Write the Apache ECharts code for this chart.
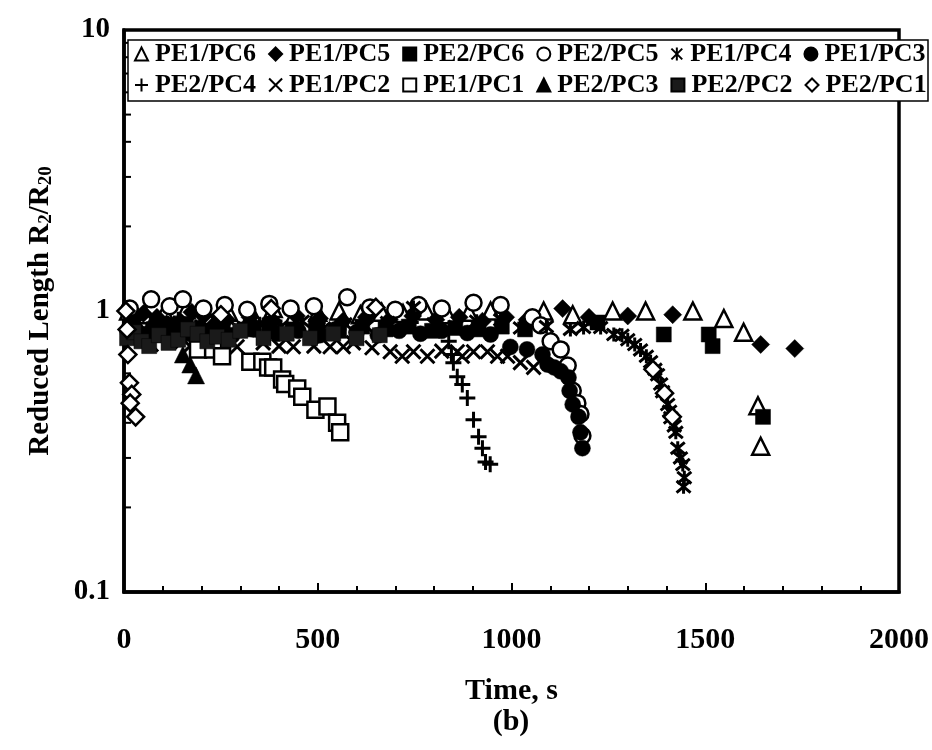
<!DOCTYPE html>
<html>
<head>
<meta charset="utf-8">
<script src="https://cdn.jsdelivr.net/npm/echarts@6/dist/echarts.min.js"></script>
<style>
  html, body { margin: 0; padding: 0; background: #fff; }
  #chart { width: 932px; height: 750px; }
</style>
</head>
<body>
<div id="chart"></div>
<script>
// Time (s) vs reduced length R2/R20 for each PE/PC pair
const pe1pc6 = [[12,1.00],[55,0.97],[105,0.99],[160,1.01],[215,0.96],[270,0.99],[330,0.98],[385,1.02],[440,0.97],[500,0.99],[555,1.00],[610,0.97],[665,0.99],[720,0.98],[780,1.00],[835,0.97],[890,0.99],[946,1.00],[1083,1.00],[1158,0.97],[1261,1.00],[1346,1.00],[1468,1.00],[1548,0.94],[1599,0.84],[1636,0.46],[1643,0.33]];
const pe1pc5 = [[25,0.93],[50,0.98],[85,0.95],[110,0.90],[145,0.92],[175,0.99],[205,0.96],[235,0.90],[265,0.93],[325,0.95],[385,0.92],[445,0.96],[505,0.94],[565,0.92],[625,0.95],[685,0.93],[745,0.96],[805,0.93],[865,0.95],[925,0.92],[985,0.95],[1040,0.93],[1132,1.02],[1200,0.95],[1300,0.96],[1416,0.97],[1643,0.76],[1731,0.735]];
const pe2pc6 = [[15,0.88],[40,0.83],[75,0.86],[100,0.82],[135,0.89],[160,0.90],[195,0.85],[225,0.84],[255,0.88],[315,0.86],[375,0.89],[435,0.86],[495,0.88],[555,0.85],[615,0.88],[675,0.86],[735,0.88],[795,0.85],[855,0.87],[915,0.86],[975,0.88],[1035,0.86],[1222,0.91],[1393,0.825],[1509,0.825],[1519,0.75],[1649,0.42]];
const pe2pc5 = [[15,1.02],[70,1.10],[118,1.04],[152,1.10],[205,1.02],[260,1.05],[318,1.01],[375,1.06],[430,1.02],[490,1.04],[576,1.12],[635,1.03],[700,1.01],[760,1.05],[820,1.02],[902,1.07],[972,1.05],[1054,0.95],[1075,0.89],[1101,0.78],[1127,0.73],[1145,0.64],[1158,0.52],[1170,0.47],[1178,0.43],[1183,0.36]];
const pe1pc4 = [[20,0.90],[75,0.87],[130,0.91],[185,0.88],[240,0.92],[295,0.87],[350,0.90],[405,0.88],[460,0.92],[515,0.87],[570,0.90],[625,0.88],[680,0.91],[747,1.03],[800,0.90],[855,0.88],[910,0.92],[972,0.93],[1023,0.87],[1090,0.88],[1152,0.86],[1186,0.873],[1230,0.873],[1264,0.825],[1285,0.82],[1300,0.79],[1318,0.76],[1333,0.727],[1348,0.69],[1359,0.66],[1370,0.62],[1377,0.593],[1385,0.55],[1390,0.516],[1403,0.465],[1408,0.44],[1411,0.417],[1420,0.39],[1424,0.37],[1429,0.325],[1436,0.30],[1442,0.284],[1446,0.255],[1444,0.237]];
const pe1pc3 = [[10,0.84],[30,0.86],[60,0.82],[85,0.84],[115,0.86],[140,0.81],[170,0.83],[195,0.87],[225,0.85],[250,0.83],[280,0.82],[335,0.86],[395,0.83],[450,0.85],[505,0.82],[545,0.86],[600,0.84],[655,0.82],[710,0.85],[765,0.83],[820,0.85],[886,0.835],[946,0.825],[997,0.745],[1040,0.73],[1080,0.70],[1093,0.645],[1110,0.63],[1127,0.61],[1147,0.58],[1150,0.52],[1158,0.465],[1173,0.42],[1178,0.37],[1183,0.325]];
const pe2pc4 = [[18,0.92],[80,0.89],[140,0.93],[200,0.88],[260,0.91],[320,0.89],[380,0.93],[440,0.88],[500,0.91],[560,0.89],[620,0.92],[680,0.88],[740,0.91],[800,0.89],[838,0.78],[845,0.70],[850,0.654],[860,0.584],[873,0.548],[886,0.49],[902,0.41],[915,0.357],[925,0.325],[933,0.29],[945,0.285]];
const pe1pc2 = [[20,0.79],[70,0.76],[120,0.78],[170,0.75],[256,0.77],[292,0.746],[359,0.77],[400,0.75],[437,0.746],[490,0.75],[532,0.746],[566,0.746],[592,0.77],[640,0.74],[687,0.716],[718,0.69],[747,0.716],[783,0.69],[820,0.72],[860,0.716],[873,0.69],[902,0.716],[938,0.716],[964,0.69],[990,0.69],[1023,0.655],[1057,0.63]];
const pe1pc1 = [[191,0.73],[230,0.73],[253,0.69],[326,0.66],[357,0.66],[372,0.63],[385,0.63],[408,0.57],[416,0.55],[447,0.53],[460,0.495],[494,0.445],[525,0.457],[550,0.40],[558,0.37]];
const pe2pc3 = [[10,0.92],[40,0.87],[70,0.90],[100,0.84],[130,0.80],[152,0.70],[171,0.645],[186,0.59]];
const pe2pc2 = [[8,0.80],[25,0.84],[45,0.78],[65,0.75],[90,0.82],[115,0.77],[140,0.79],[165,0.86],[190,0.83],[215,0.78],[240,0.81],[270,0.79],[300,0.85],[360,0.80],[420,0.83],[480,0.80],[540,0.83],[600,0.80],[660,0.82]];
const pe2pc1 = [[5,1.00],[8,0.86],[10,0.70],[14,0.555],[20,0.505],[16,0.47],[30,0.42],[250,0.97],[380,1.02],[650,1.03],[1365,0.62],[1395,0.51],[1415,0.42]];

const xTickLabels = ['0', '500', '1000', '1500', '2000'];
const yTickLabels = ['0.1', '1', '10'];
const yMinorTicks = [0.2,0.3,0.4,0.5,0.6,0.7,0.8,0.9,2,3,4,5,6,7,8,9];

const FONT = 'Liberation Serif';

// marker shapes
const PLUS = 'path://M5,0L5,10M0,5L10,5';
const CROSS = 'path://M0,0L10,10M10,0L0,10';
const STAR = 'path://M0,0L10,10M10,0L0,10M5,-1L5,11';

const openStyle = { color: '#fff', borderColor: '#000', borderWidth: 2.5, opacity: 1 };
const solidStyle = { color: '#000', borderColor: '#000', borderWidth: 0.5, opacity: 1 };
const strokeStyle = { color: '#000', borderColor: '#000', borderWidth: 3, opacity: 1 };

const seriesDefs = [
  { name: 'PE1/PC6', data: pe1pc6, symbol: 'triangle', size: 17, style: openStyle },
  { name: 'PE1/PC5', data: pe1pc5, symbol: 'diamond', size: 18, style: solidStyle },
  { name: 'PE2/PC6', data: pe2pc6, symbol: 'rect', size: 15, style: solidStyle },
  { name: 'PE2/PC5', data: pe2pc5, symbol: 'circle', size: 16, style: openStyle },
  { name: 'PE1/PC4', data: pe1pc4, symbol: STAR, size: 14, style: strokeStyle },
  { name: 'PE1/PC3', data: pe1pc3, symbol: 'circle', size: 16, style: solidStyle },
  { name: 'PE2/PC4', data: pe2pc4, symbol: PLUS, size: 16, style: strokeStyle },
  { name: 'PE1/PC2', data: pe1pc2, symbol: CROSS, size: 14, style: strokeStyle },
  { name: 'PE1/PC1', data: pe1pc1, symbol: 'rect', size: 16, style: openStyle },
  { name: 'PE2/PC3', data: pe2pc3, symbol: 'triangle', size: 17, style: solidStyle },
  { name: 'PE2/PC2', data: pe2pc2, symbol: 'rect', size: 15, style: { color: '#1a1a1a', borderColor: '#000', borderWidth: 0.5, opacity: 1 } },
  { name: 'PE2/PC1', data: pe2pc1, symbol: 'diamond', size: 17, style: openStyle }
];

const series = seriesDefs.map(d => ({
  name: d.name,
  type: 'scatter',
  data: d.data,
  symbol: d.symbol,
  symbolSize: d.size,
  itemStyle: d.style,
  emphasis: { disabled: true },
  animation: false
}));

// log-axis minor ticks at 2..9 of each decade
series.push({
  name: 'minorTicks',
  type: 'custom',
  silent: true,
  animation: false,
  z: 1,
  data: yMinorTicks.map(v => [0, v]),
  encode: { x: 0, y: 1 },
  renderItem: function (params, api) {
    const p = api.coord([api.value(0), api.value(1)]);
    return {
      type: 'line',
      shape: { x1: p[0], y1: p[1], x2: p[0] + 7, y2: p[1] },
      style: { stroke: '#000', lineWidth: 2 }
    };
  }
});

const legendText = { fontFamily: FONT, fontWeight: 'bold', fontSize: 26, color: '#000', padding: [0, 0, 0, 2] };
function legendRow(names, top) {
  return {
    data: names, left: 134, top: top, padding: 0,
    itemWidth: 13, itemHeight: 13, itemGap: 12,
    selectedMode: false, textStyle: legendText
  };
}
const names = seriesDefs.map(d => d.name);

const chart = echarts.init(document.getElementById('chart'), null, { renderer: 'canvas' });
chart.setOption({
  backgroundColor: '#fff',
  animation: false,
  grid: {
    left: 124, right: 33, top: 30, bottom: 158,
    show: true, borderColor: '#000', borderWidth: 3.5, backgroundColor: 'transparent'
  },
  legend: [legendRow(names.slice(0, 6), 41), legendRow(names.slice(6), 72)],
  xAxis: {
    type: 'value', min: 0, max: 2000, interval: 500,
    name: 'Time, s', nameLocation: 'middle', nameGap: 84,
    nameTextStyle: { fontFamily: FONT, fontWeight: 'bold', fontSize: 30, color: '#000' },
    axisLine: { show: true, lineStyle: { color: '#000', width: 3.5 } },
    axisTick: { show: true, inside: true, length: 9, lineStyle: { color: '#000', width: 2 } },
    minorTick: { show: true, splitNumber: 5, length: 6, lineStyle: { color: '#000', width: 2 } },
    splitLine: { show: false },
    axisLabel: {
      margin: 33, fontFamily: FONT, fontWeight: 'bold', fontSize: 30, color: '#000',
      formatter: (v, i) => xTickLabels[i]
    }
  },
  yAxis: {
    type: 'log', logBase: 10, min: 0.1, max: 10,
    name: 'Reduced Length R{s|2}/R{s|20}', nameLocation: 'middle', nameGap: 68, nameRotate: 90,
    nameTextStyle: {
      fontFamily: FONT, fontWeight: 'bold', fontSize: 29, color: '#000',
      rich: { s: { fontFamily: FONT, fontWeight: 'bold', fontSize: 19, color: '#000', verticalAlign: 'bottom', padding: [12, 0, 0, 0] } }
    },
    axisLine: { show: true, lineStyle: { color: '#000', width: 3.5 } },
    axisTick: { show: true, inside: true, length: 9, lineStyle: { color: '#000', width: 2 } },
    splitLine: { show: false },
    axisLabel: {
      margin: 14, fontFamily: FONT, fontWeight: 'bold', fontSize: 29, color: '#000',
      formatter: (v, i) => yTickLabels[i]
    }
  },
  graphic: [
    {
      // legend frame
      type: 'rect', z: 3, silent: true,
      shape: { x: 128, y: 40, width: 800, height: 61 },
      style: { fill: '#fff', stroke: '#000', lineWidth: 1.5 }
    },
    {
      type: 'text', x: 511, y: 722,
      style: { text: '(b)', fontFamily: FONT, fontWeight: 'bold', fontSize: 30, fill: '#000', textAlign: 'center', textVerticalAlign: 'middle' }
    }
  ],
  series: series
});
</script>
</body>
</html>
